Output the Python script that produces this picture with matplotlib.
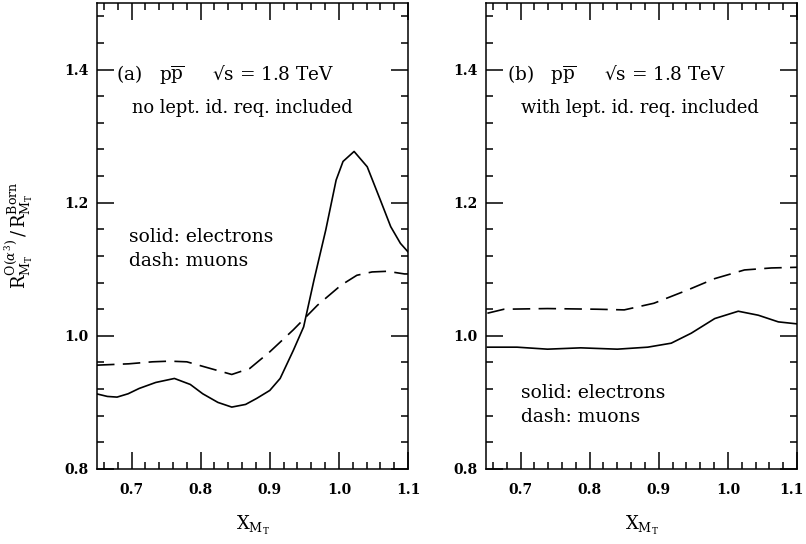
import matplotlib
matplotlib.use("Agg")
import matplotlib.pyplot as plt
from matplotlib.ticker import MultipleLocator
from matplotlib.transforms import ScaledTranslation

plt.rcParams['font.family'] = ['DejaVu Serif', 'DejaVu Sans']
plt.rcParams['mathtext.fontset'] = 'dejavuserif'

# Panel (a): no lepton id requirement
a_el_x = [0.649, 0.665, 0.679, 0.695, 0.711, 0.735, 0.762, 0.785, 0.803, 0.825, 0.845,
          0.865, 0.881, 0.900, 0.915, 0.934, 0.949, 0.964, 0.981, 0.996, 1.006, 1.022,
          1.041, 1.060, 1.075, 1.089, 1.101]
a_el_y = [0.913, 0.909, 0.908, 0.913, 0.921, 0.930, 0.936, 0.927, 0.913, 0.900, 0.893,
          0.897, 0.906, 0.918, 0.936, 0.978, 1.0135, 1.084, 1.159, 1.234, 1.262, 1.277,
          1.254, 1.204, 1.164, 1.139, 1.125]
a_mu_x = [0.650, 0.696, 0.730, 0.755, 0.780, 0.814, 0.845, 0.871, 0.900, 0.934, 0.969,
          1.003, 1.026, 1.048, 1.070, 1.095, 1.101]
a_mu_y = [0.956, 0.958, 0.961, 0.962, 0.961, 0.951, 0.942, 0.951, 0.976, 1.009, 1.046,
          1.076, 1.091, 1.096, 1.097, 1.093, 1.093]

# Panel (b): with lepton id requirement
b_el_x = [0.652, 0.695, 0.739, 0.787, 0.840, 0.884, 0.918, 0.947, 0.981, 1.015, 1.044,
          1.073, 1.100]
b_el_y = [0.983, 0.983, 0.980, 0.982, 0.980, 0.983, 0.989, 1.004, 1.026, 1.037, 1.031,
          1.021, 1.018]
b_mu_x = [0.652, 0.676, 0.739, 0.811, 0.850, 0.893, 0.942, 0.981, 1.024, 1.063, 1.100]
b_mu_y = [1.034, 1.040, 1.041, 1.040, 1.039, 1.049, 1.069, 1.086, 1.099, 1.102, 1.103]

x_ticks = [0.7, 0.8, 0.9, 1.0, 1.1]
y_ticks = [0.8, 1.0, 1.2, 1.4]

fig = plt.figure(figsize=(8.06, 5.44), dpi=100)
axL = fig.add_axes([97/806, 75/544, 311/806, 466/544])
axR = fig.add_axes([486/806, 75/544, 311/806, 466/544])

panels = [
    (axL, a_el_x, a_el_y, a_mu_x, a_mu_y, '(a)', 'no lept. id. req. included', (0.697, 1.148)),
    (axR, b_el_x, b_el_y, b_mu_x, b_mu_y, '(b)', 'with lept. id. req. included', (0.700, 0.914)),
]

for ax, ex, ey, mx, my, tag, sub, legpos in panels:
    ax.plot(ex, ey, color='black', lw=1.2)
    ax.plot(mx, my, color='black', lw=1.2, dashes=(10.5, 5))
    ax.set_xlim(0.65, 1.1)
    ax.set_ylim(0.8, 1.5)
    ax.set_xticks(x_ticks)
    ax.set_xticklabels(['0.7', '0.8', '0.9', '1.0', '1.1'])
    ax.set_yticks(y_ticks)
    ax.set_yticklabels(['0.8', '1.0', '1.2', '1.4'])
    ax.xaxis.set_minor_locator(MultipleLocator(0.02))
    ax.yaxis.set_minor_locator(MultipleLocator(0.04))
    ax.tick_params(which='both', direction='in', top=True, right=True, width=1.1,
                   labelsize=10)
    ax.tick_params(which='major', length=12)
    ax.tick_params(which='minor', length=4.8)
    ax.tick_params(axis='x', which='major', pad=10)
    ax.tick_params(axis='y', which='major', pad=6)
    for lab in ax.get_xticklabels() + ax.get_yticklabels():
        lab.set_fontweight('bold')
    for s in ax.spines.values():
        s.set_linewidth(1.1)
    ax.text(0.677 if tag == '(a)' else 0.68, 1.392,
            tag + r'   $\mathrm{p}\overline{\mathrm{p}}$     √s = 1.8 TeV',
            fontsize=13.3, va='center', ha='left')
    ax.text(0.700, 1.342, sub, fontsize=12.9, va='center', ha='left')
    ax.text(legpos[0], legpos[1], 'solid: electrons', fontsize=13.5, va='center', ha='left')
    ax.text(legpos[0], legpos[1] - 0.036, 'dash: muons', fontsize=13.5, va='center', ha='left')
    ax.set_xlabel(r'$\mathrm{X}_{\mathrm{M_T}}$', fontsize=13, labelpad=12)

axL.set_ylabel(r'$\mathrm{R}^{\mathrm{O}(\alpha^3)}_{\mathrm{M_T}}\,/\,\mathrm{R}^{\mathrm{Born}}_{\mathrm{M_T}}$',
               fontsize=13)
axL.yaxis.set_label_coords(-0.2, 0.502)

# keep the last tick label of the right panel inside the canvas
last = axR.xaxis.get_major_ticks()[-1].label1
last.set_transform(last.get_transform() + ScaledTranslation(-4/72, 0, fig.dpi_scale_trans))

fig.savefig('out.png', dpi=100)
